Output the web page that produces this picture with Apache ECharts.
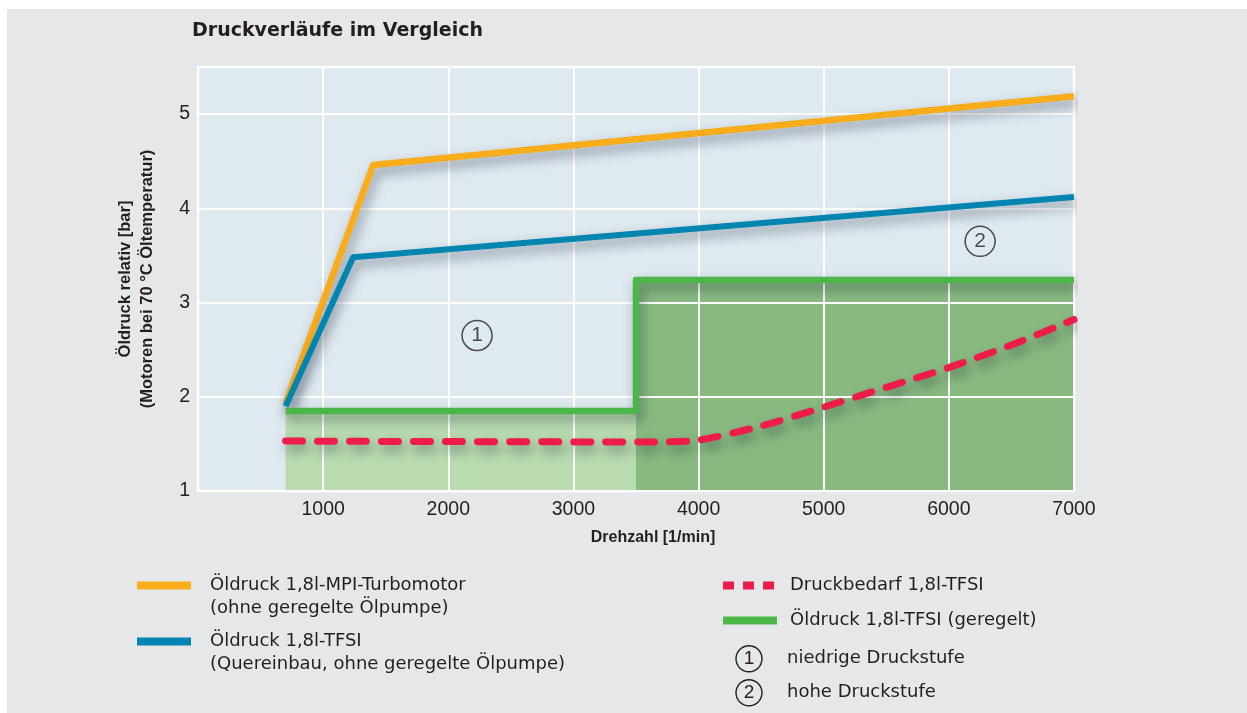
<!DOCTYPE html>
<html>
<head>
<meta charset="utf-8">
<script src="https://cdn.jsdelivr.net/npm/echarts@6/dist/echarts.min.js"></script>
<style>
  body { margin: 0; background: #ffffff; }
  #chart { position: absolute; left: 7px; top: 9px; width: 1240px; height: 704px; background: #e6e7e9; }
</style>
</head>
<body>
<div id="chart"></div>
<script>
// Drehzahl [1/min] / Öldruck [bar]
const mpiTurbo = [[700, 1.93], [1400, 4.46], [7000, 5.19]];
const tfsiQuer = [[700, 1.9], [1240, 3.48], [7000, 4.12]];
const tfsiGeregelt = [[700, 1.85], [3500, 1.85], [3500, 3.24], [7000, 3.24]];
const fillLow = [[700, 1.85], [3500, 1.85]];
const fillHigh = [[3500, 3.24], [7000, 3.24]];
const druckbedarf = [[700, 1.53], [3600, 1.52], [4000, 1.54], [4500, 1.69], [5000, 1.89],
  [5500, 2.1], [6000, 2.31], [6500, 2.55], [7000, 2.82]];
const stufenNum = ['1', '2'];
const stufenName = ['niedrige Druckstufe', 'hohe Druckstufe'];
const stufenPos = [[2230, 2.65], [6250, 3.65]];

const seriesNames = ['Öldruck 1,8l-MPI-Turbomotor', 'Öldruck 1,8l-TFSI', 'Druckbedarf 1,8l-TFSI', 'Öldruck 1,8l-TFSI (geregelt)'];
const seriesNotes = ['(ohne geregelte Ölpumpe)', '(Quereinbau, ohne geregelte Ölpumpe)'];

const textColor = '#231f20';
const shadow = { shadowColor: 'rgba(40,50,65,0.5)', shadowBlur: 12, shadowOffsetX: 3, shadowOffsetY: 6 };
const legendFont = { fontFamily: 'DejaVu Sans', fontSize: 18, color: textColor, lineHeight: 23 };
const legendLine = { width: 8, cap: 'butt', shadowBlur: 0, shadowColor: 'rgba(0,0,0,0)', shadowOffsetX: 0, shadowOffsetY: 0 };

function lineLegend(name, left, top, pad, extra) {
  return {
    data: [name], left: left, top: top, orient: 'vertical', padding: 0,
    itemWidth: 54, itemHeight: 14, selectedMode: false,
    itemStyle: { opacity: 0 },
    lineStyle: Object.assign({}, legendLine, extra || {}),
    textStyle: Object.assign({ padding: [0, 0, 0, pad] }, legendFont),
    formatter: function (n) {
      const i = seriesNames.indexOf(n);
      return i < 2 ? ' \n' + n + '\n' + seriesNotes[i] : n;
    }
  };
}

function stufeLegend(i, top) {
  return {
    data: [stufenName[i]], left: 722, top: top, padding: 0,
    itemWidth: 1, itemHeight: 1, selectedMode: false,
    itemStyle: { opacity: 0 },
    formatter: '{n|' + stufenNum[i] + '}{t|' + stufenName[i] + '}',
    textStyle: {
      rich: {
        n: { width: 26, height: 26, lineHeight: 26, borderRadius: 14, borderColor: textColor, borderWidth: 1.4,
          align: 'center', fontFamily: 'Liberation Sans', fontSize: 19, color: textColor },
        t: { padding: [0, 0, 0, 25], fontFamily: 'DejaVu Sans', fontSize: 18, color: textColor }
      }
    }
  };
}

const chart = echarts.init(document.getElementById('chart'));
chart.setOption({
  animation: false,
  title: {
    text: 'Druckverläufe im Vergleich', left: 185, top: 13, padding: 0,
    textStyle: { fontFamily: 'DejaVu Sans', fontWeight: 'bold', fontSize: 19, color: textColor }
  },
  grid: {
    left: 191, top: 58, right: 173, bottom: 222,
    show: true, backgroundColor: '#dfe9f0', borderColor: '#ffffff', borderWidth: 2.5
  },
  legend: [
    lineLegend(seriesNames[0], 126, 542, 14),
    lineLegend(seriesNames[1], 126, 598, 14),
    lineLegend(seriesNames[2], 712, 565, 8, { type: [11, 9] }),
    lineLegend(seriesNames[3], 712, 600, 8),
    stufeLegend(0, 636),
    stufeLegend(1, 670)
  ],
  xAxis: {
    type: 'value', min: 0, max: 7000, interval: 1000, z: 3,
    name: 'Drehzahl [1/min]', nameLocation: 'middle', nameGap: 39,
    nameTextStyle: { fontFamily: 'Liberation Sans', fontWeight: 'bold', fontSize: 16, color: textColor, padding: [0, 0, 0, 34] },
    axisLine: { show: false }, axisTick: { show: false },
    axisLabel: { showMinLabel: false, margin: 9, fontFamily: 'Liberation Sans', fontSize: 19.5, color: textColor,
      formatter: function (v) { return String(v); } },
    splitLine: { lineStyle: { color: '#ffffff', width: 2 } }
  },
  yAxis: {
    type: 'value', min: 1, max: 5.5, interval: 1, z: 3,
    name: 'Öldruck relativ [bar]\n(Motoren bei 70 °C Öltemperatur)', nameLocation: 'middle', nameGap: 40,
    nameTextStyle: { fontFamily: 'Liberation Sans', fontWeight: 'bold', fontSize: 16.5, lineHeight: 22, color: textColor },
    axisLine: { show: false }, axisTick: { show: false },
    axisLabel: { showMaxLabel: false, margin: 8, fontFamily: 'Liberation Sans', fontSize: 19.5, color: textColor },
    splitLine: { lineStyle: { color: '#ffffff', width: 2 } }
  },
  series: [
    {
      type: 'line', data: fillLow, symbol: 'none', silent: true, z: 1,
      lineStyle: { width: 0 }, areaStyle: { color: '#b9dbb0', opacity: 1, origin: 'start' }
    },
    {
      type: 'line', data: fillHigh, symbol: 'none', silent: true, z: 1,
      lineStyle: { width: 0 }, areaStyle: { color: '#88ba80', opacity: 1, origin: 'start' }
    },
    {
      name: seriesNames[0], type: 'line', data: mpiTurbo, symbol: 'none', z: 4,
      lineStyle: Object.assign({ color: '#f9ad1a', width: 6.5, join: 'round' }, shadow),
      itemStyle: { color: '#f9ad1a' }
    },
    {
      name: seriesNames[1], type: 'line', data: tfsiQuer, symbol: 'none', z: 5,
      lineStyle: Object.assign({ color: '#0085b0', width: 6, join: 'round' }, shadow),
      itemStyle: { color: '#0085b0' }
    },
    {
      name: seriesNames[3], type: 'line', data: tfsiGeregelt, symbol: 'none', z: 6,
      lineStyle: Object.assign({ color: '#4cb748', width: 6.5, join: 'round' }, shadow),
      itemStyle: { color: '#4cb748' }
    },
    {
      name: seriesNames[2], type: 'line', data: druckbedarf, symbol: 'none', z: 7,
      smooth: 0.25,
      lineStyle: Object.assign({ color: '#ee1c4a', width: 7, type: [17, 15], cap: 'round' }, shadow),
      itemStyle: { color: '#ee1c4a' }
    },
    {
      name: stufenName[0], type: 'scatter', data: [stufenPos[0]], symbolSize: 30, z: 8,
      itemStyle: { color: 'rgba(0,0,0,0)', borderColor: textColor, borderWidth: 1.5 },
      label: { show: true, position: 'inside', formatter: stufenNum[0], fontFamily: 'Liberation Sans', fontSize: 21, color: textColor }
    },
    {
      name: stufenName[1], type: 'scatter', data: [stufenPos[1]], symbolSize: 30, z: 8,
      itemStyle: { color: 'rgba(0,0,0,0)', borderColor: textColor, borderWidth: 1.5 },
      label: { show: true, position: 'inside', formatter: stufenNum[1], fontFamily: 'Liberation Sans', fontSize: 21, color: textColor }
    }
  ]
});
</script>
</body>
</html>
